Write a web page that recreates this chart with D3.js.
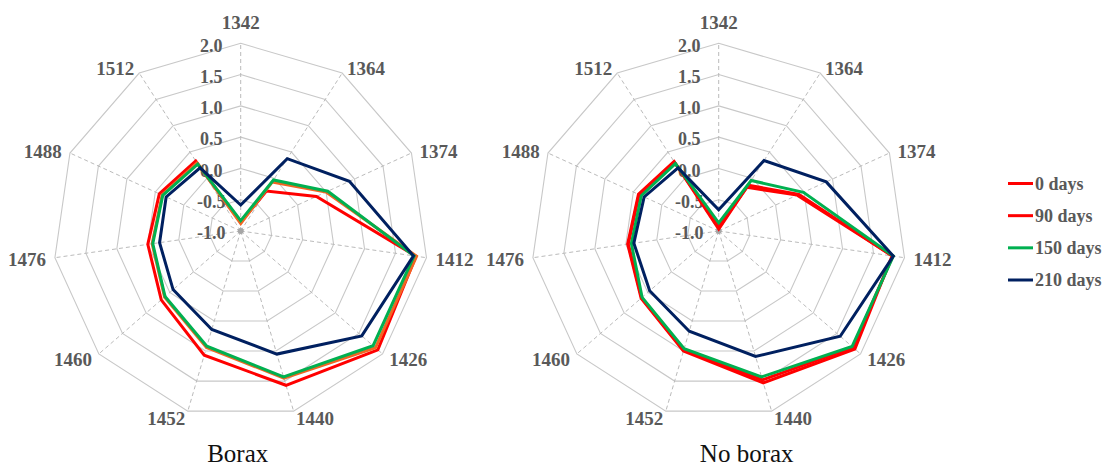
<!DOCTYPE html>
<html><head><meta charset="utf-8">
<script src="https://cdn.jsdelivr.net/npm/d3@7"></script>
<style>
html,body{margin:0;padding:0;background:#fff;}
svg{display:block;font-family:"Liberation Serif","Times New Roman",serif;}
</style></head>
<body>
<svg id="chart" width="1110" height="468"></svg>
<script>
const categories = ["1342","1364","1374","1412","1426","1440","1452","1460","1476","1488","1512"];
const tickValues = [-1.0, -0.5, 0, 0.5, 1.0, 1.5, 2.0];
const tickLabels = ["-1.0","-0.5","0.0","0.5","1.0","1.5","2.0"];
const seriesNames = ["0 days","90 days","150 days","210 days"];
const panelTitles = ["Borax","No borax"];

const borax0   = [-0.86, -0.24, 0.33, 1.83, 1.90, 1.57, 1.07, 0.68, 0.50, 0.43, 0.33];
const borax90  = [-0.88, -0.07, 0.50, 1.84, 1.85, 1.45, 0.94, 0.61, 0.43, 0.38, 0.29];
const borax150 = [-0.835, -0.03, 0.53, 1.80, 1.80, 1.43, 0.92, 0.60, 0.42, 0.37, 0.27];
const borax210 = [-0.585, 0.375, 0.91, 1.79, 1.56, 1.05, 0.64, 0.43, 0.31, 0.31, 0.20];

const noBorax0   = [-0.97, -0.13, 0.41, 1.80, 1.88, 1.53, 1.00, 0.64, 0.47, 0.41, 0.32];
const noBorax90  = [-0.93, -0.17, 0.38, 1.81, 1.84, 1.48, 0.98, 0.63, 0.46, 0.40, 0.31];
const noBorax150 = [-0.87, -0.04, 0.49, 1.82, 1.82, 1.43, 0.96, 0.62, 0.41, 0.36, 0.28];
const noBorax210 = [-0.66, 0.34, 0.89, 1.82, 1.57, 1.09, 0.67, 0.46, 0.37, 0.31, 0.20];

const leftColors  = ["#FF0000", "#F26522", "#00B050", "#002060"];
const rightColors = ["#FF0000", "#FF0000", "#00B050", "#002060"];
const legendColors = ["#FF0000", "#FF0000", "#00B050", "#002060"];

const svg = d3.select("#chart");
const R = 187.7;
const rScale = d3.scaleLinear().domain([-1, 2]).range([0, R]);
const n = categories.length;
const angle = d3.scaleLinear().domain([0, n]).range([0, 2 * Math.PI]);
const labelGray = "#595959";

function pt(cx, cy, i, r) {
  const a = angle(i);
  return [cx + r * Math.sin(a), cy - r * Math.cos(a)];
}

function drawRadar(cx, cy, series, colors, title, titleDx) {
  const g = svg.append("g");
  tickValues.filter(v => v > -1).forEach(v => {
    const pts = d3.range(n).map(i => pt(cx, cy, i, rScale(v)));
    g.append("path")
      .attr("d", d3.line()(pts) + "Z")
      .attr("fill", "none").attr("stroke", "#C8C8C8").attr("stroke-width", 1.1);
  });
  d3.range(n).forEach(i => {
    const p = pt(cx, cy, i, R);
    g.append("line")
      .attr("x1", cx).attr("y1", cy).attr("x2", p[0]).attr("y2", p[1])
      .attr("stroke", "#BBBBBB").attr("stroke-width", 1)
      .attr("stroke-dasharray", "4,3");
  });
  tickValues.forEach((v, k) => {
    g.append("text")
      .attr("x", cx - 29.5).attr("y", cy - rScale(v) + 2)
      .attr("dy", "0.35em").attr("text-anchor", "middle")
      .attr("font-size", 18).attr("font-weight", "bold").attr("fill", labelGray)
      .text(tickLabels[k]);
  });
  categories.forEach((c, i) => {
    const a = angle(i);
    const s = Math.sin(a), co = Math.cos(a);
    const p = pt(cx, cy, i, R);
    const t = g.append("text")
      .attr("font-size", 19).attr("font-weight", "bold").attr("fill", labelGray)
      .attr("dy", "0.35em").text(c);
    if (Math.abs(s) < 0.05) {
      t.attr("x", p[0]).attr("y", p[1] - 21).attr("text-anchor", "middle");
    } else {
      t.attr("x", p[0] + 9 * s).attr("y", p[1] - co * 7 + 1)
       .attr("text-anchor", s > 0 ? "start" : "end");
    }
  });
  g.append("circle").attr("cx", cx).attr("cy", cy).attr("r", 3).attr("fill", "#A6A6A6");
  const line = d3.lineRadial()
    .angle((d, i) => angle(i))
    .radius(d => rScale(d))
    .curve(d3.curveLinearClosed);
  series.forEach((vals, k) => {
    g.append("path")
      .attr("transform", `translate(${cx},${cy})`)
      .attr("d", line(vals))
      .attr("fill", "none").attr("stroke", colors[k])
      .attr("stroke-width", 3).attr("stroke-linejoin", "miter");
  });
  g.append("text")
    .attr("x", cx + titleDx).attr("y", 462)
    .attr("text-anchor", "middle").attr("font-size", 25).attr("fill", "#111")
    .text(title);
}

drawRadar(240.7, 231, [borax0, borax90, borax150, borax210], leftColors, panelTitles[0], -3);
drawRadar(718.7, 231, [noBorax0, noBorax90, noBorax150, noBorax210], rightColors, panelTitles[1], 28);

const lg = svg.append("g");
const legendY = d3.scalePoint().domain(seriesNames).range([183.5, 280]);
seriesNames.forEach((name, k) => {
  const y = legendY(name);
  lg.append("line").attr("x1", 1008).attr("x2", 1033).attr("y1", y).attr("y2", y)
    .attr("stroke", legendColors[k]).attr("stroke-width", 3);
  lg.append("text").attr("x", 1035).attr("y", y).attr("dy", "0.35em")
    .attr("font-size", 18).attr("font-weight", "bold").attr("fill", labelGray)
    .text(name);
});
</script>
</body></html>
